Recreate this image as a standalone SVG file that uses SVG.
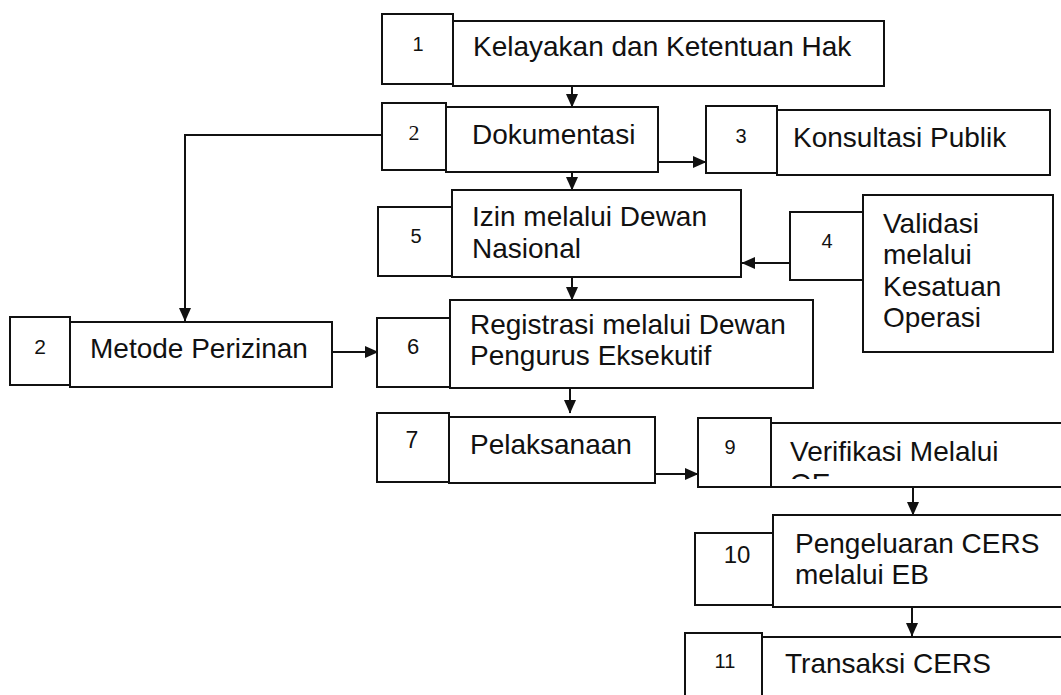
<svg xmlns="http://www.w3.org/2000/svg" width="1061" height="695" viewBox="0 0 1061 695">
<defs>
<marker id="arr" markerUnits="userSpaceOnUse" markerWidth="14" markerHeight="14" viewBox="0 0 14 14" refX="13" refY="7" orient="auto">
<path d="M0,1 L13.5,7 L0,13 Z" fill="#111"/>
</marker>
<clipPath id="clip9"><rect x="771" y="423" width="300" height="56"/></clipPath>
</defs>
<style>
rect{fill:#fff;stroke:#111;stroke-width:2}
.t{font-family:"Liberation Sans",Arial,sans-serif;font-size:28px;fill:#111}
.n{font-family:"Liberation Sans",Arial,sans-serif;font-size:20px;fill:#111;text-anchor:middle}
.s{font-family:"Liberation Serif","Times New Roman",serif;font-size:22px;fill:#111;text-anchor:middle}
.c{fill:none;stroke:#111;stroke-width:2}
</style>
<rect x="0" y="0" width="1061" height="695" style="stroke:none;fill:#fff"/>
<g id="connectors">
<line class="c" x1="572" y1="86" x2="572" y2="107" marker-end="url(#arr)"/>
<line class="c" x1="658" y1="162" x2="706" y2="162" marker-end="url(#arr)"/>
<line class="c" x1="572" y1="172" x2="572" y2="190" marker-end="url(#arr)"/>
<polyline class="c" points="382,135 185,135 185,321" marker-end="url(#arr)"/>
<line class="c" x1="790" y1="263" x2="742" y2="263" marker-end="url(#arr)"/>
<line class="c" x1="572" y1="277" x2="572" y2="300" marker-end="url(#arr)"/>
<line class="c" x1="332" y1="352" x2="378" y2="352" marker-end="url(#arr)"/>
<line class="c" x1="570" y1="388" x2="570" y2="413" marker-end="url(#arr)"/>
<line class="c" x1="655" y1="474" x2="698" y2="474" marker-end="url(#arr)"/>
<line class="c" x1="913" y1="487" x2="913" y2="515" marker-end="url(#arr)"/>
<line class="c" x1="912" y1="607" x2="912" y2="636" marker-end="url(#arr)"/>
</g>
<g id="node1">
<rect x="382" y="14" width="71" height="70"/>
<rect x="453" y="21" width="431" height="65"/>
<text class="n" x="418" y="51">1</text>
<text class="t" x="473" y="56">Kelayakan dan Ketentuan Hak</text>
</g>
<g id="node2">
<rect x="382" y="103" width="64" height="67"/>
<rect x="446" y="107" width="212" height="65"/>
<text class="s" x="414" y="140">2</text>
<text class="t" x="472" y="144">Dokumentasi</text>
</g>
<g id="node3">
<rect x="706" y="106" width="71" height="67"/>
<rect x="777" y="110" width="273" height="65"/>
<text class="n" x="741" y="143">3</text>
<text class="t" x="793" y="147">Konsultasi Publik</text>
</g>
<g id="node5">
<rect x="378" y="207" width="74" height="69"/>
<rect x="452" y="190" width="289" height="87"/>
<text class="n" x="416" y="243">5</text>
<text class="t" x="472" y="226">Izin melalui Dewan</text>
<text class="t" x="472" y="258">Nasional</text>
</g>
<g id="node4">
<rect x="790" y="212" width="73" height="68"/>
<rect x="863" y="195" width="190" height="157"/>
<text class="n" x="827" y="248">4</text>
<text class="t" x="883" y="233">Validasi</text>
<text class="t" x="883" y="264">melalui</text>
<text class="t" x="883" y="296">Kesatuan</text>
<text class="t" x="883" y="327">Operasi</text>
</g>
<g id="node2b">
<rect x="10" y="317" width="60" height="68"/>
<rect x="70" y="322" width="262" height="65"/>
<text class="n" x="40" y="354" style="font-size:21px">2</text>
<text class="t" x="90" y="358">Metode Perizinan</text>
</g>
<g id="node6">
<rect x="377" y="318" width="73" height="69"/>
<rect x="450" y="300" width="363" height="88"/>
<text class="n" x="413" y="354" style="font-size:22px">6</text>
<text class="t" x="470" y="334">Registrasi melalui Dewan</text>
<text class="t" x="470" y="365">Pengurus Eksekutif</text>
</g>
<g id="node7">
<rect x="377" y="413" width="72" height="69"/>
<rect x="449" y="417" width="206" height="66"/>
<text class="n" x="412" y="448" style="font-size:23px">7</text>
<text class="t" x="470" y="454">Pelaksanaan</text>
</g>
<g id="node9">
<rect x="698" y="418" width="73" height="69"/>
<rect x="771" y="423" width="300" height="64"/>
<text class="n" x="730" y="454">9</text>
<text class="t" x="790" y="461">Verifikasi Melalui</text>
<text class="t" x="790" y="493" clip-path="url(#clip9)">OE</text>
</g>
<g id="node10">
<rect x="695" y="533" width="78" height="72"/>
<rect x="773" y="515" width="300" height="92"/>
<text class="n" x="737" y="563" style="font-size:24px">10</text>
<text class="t" x="795" y="553">Pengeluaran CERS</text>
<text class="t" x="795" y="584">melalui EB</text>
</g>
<g id="node11">
<rect x="685" y="633" width="77" height="70"/>
<rect x="762" y="637" width="310" height="70"/>
<text class="n" x="725" y="668">11</text>
<text class="t" x="785" y="673">Transaksi CERS</text>
</g>
</svg>
